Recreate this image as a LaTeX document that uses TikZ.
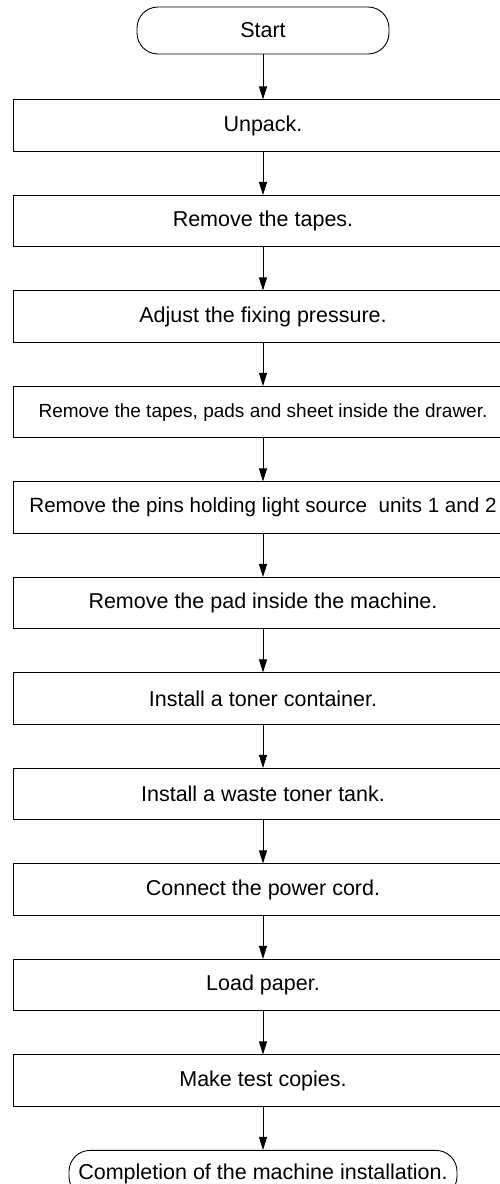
\documentclass[tikz,border=0pt]{standalone}
\usepackage{fontspec}
\setmainfont{Liberation Sans}
\usetikzlibrary{arrows.meta,positioning}

\begin{document}
\begin{tikzpicture}[x=1pt,y=1pt,node distance=43.1pt, every node/.style={font=\fontsize{21.5}{26}\selectfont},line width=0.9pt,
  box/.style={draw,inner xsep=2pt,minimum width=500pt,minimum height=51.5pt},
  term/.style={draw,rounded corners=21pt,minimum height=47pt},
  arr/.style={-{Triangle[length=13pt,width=8pt]}}]
\useasboundingbox (0,0) rectangle (499,-1184);
\node[term,minimum width=252pt] (start) at (263,-30.5) {Start};
\node[box,below=45pt of start] (unpack) {Unpack.};
\node[box,below=of unpack] (tapes) {Remove the tapes.};
\node[box,below=of tapes] (fixing) {Adjust the fixing pressure.};
\node[box,below=of fixing,font=\fontsize{19}{23}\selectfont] (drawer) {Remove the tapes, pads and sheet inside the drawer.};
\node[box,below=of drawer,font=\fontsize{20.6}{25}\selectfont] (pins) {Remove the pins holding light source \ units 1 and 2};
\node[box,below=of pins] (pad) {Remove the pad inside the machine.};
\node[box,below=of pad] (toner) {Install a toner container.};
\node[box,below=of toner] (waste) {Install a waste toner tank.};
\node[box,below=of waste] (cord) {Connect the power cord.};
\node[box,below=of cord] (paper) {Load paper.};
\node[box,below=of paper] (copies) {Make test copies.};
\node[term,minimum width=388pt,below=of copies] (done) {Completion of the machine installation.};
\draw[arr] (start)--(unpack);\draw[arr] (unpack)--(tapes);\draw[arr] (tapes)--(fixing);\draw[arr] (fixing)--(drawer);
\draw[arr] (drawer)--(pins);\draw[arr] (pins)--(pad);\draw[arr] (pad)--(toner);\draw[arr] (toner)--(waste);
\draw[arr] (waste)--(cord);\draw[arr] (cord)--(paper);\draw[arr] (paper)--(copies);\draw[arr] (copies)--(done);
\end{tikzpicture}
\end{document}
